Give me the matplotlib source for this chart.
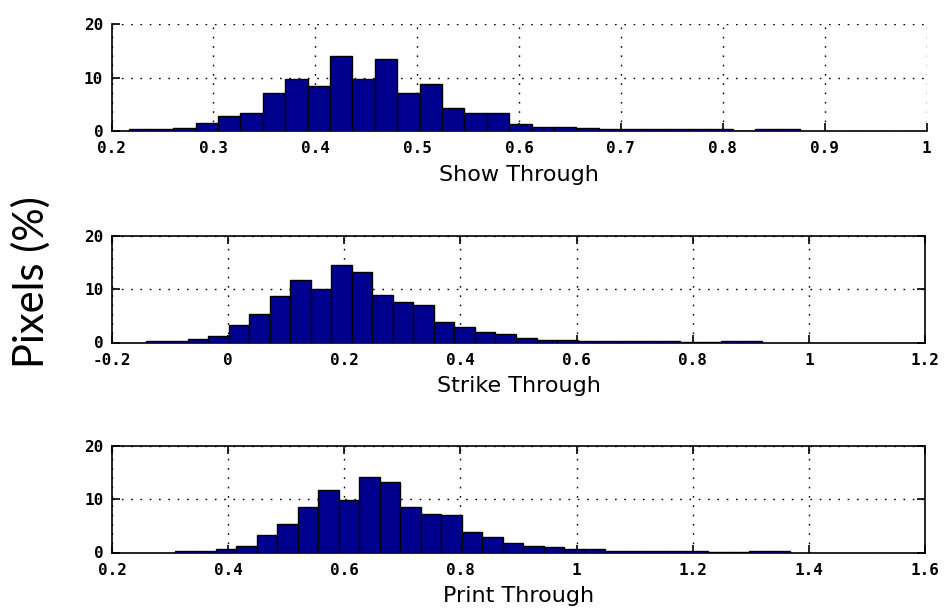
import numpy as np
import matplotlib
matplotlib.use("Agg")
import matplotlib.pyplot as plt

# ---- data ----
show_range = (0.2167, 0.876)
show_counts = [0.3, 0.3, 0.55, 1.5, 2.75, 3.4, 7.1, 9.7, 8.4, 14.1, 9.7, 13.4, 7.1, 8.75, 4.3,
               3.4, 3.4, 1.4, 0.8, 0.8, 0.5, 0.35, 0.35, 0.35, 0.35, 0.35, 0.35, 0.0, 0.3, 0.3]
strike_range = (-0.1407, 0.92)
strike_counts = [0.2, 0.2, 0.6, 1.25, 3.25, 5.4, 8.6, 11.7, 10.05, 14.5, 13.25, 8.9, 7.6, 7.0, 3.8,
                 2.9, 1.9, 1.6, 0.9, 0.55, 0.55, 0.25, 0.25, 0.25, 0.25, 0.25, 0.1, 0.1, 0.3, 0.3]
print_range = (0.308, 1.367)
print_counts = [0.25, 0.25, 0.6, 1.25, 3.2, 5.4, 8.55, 11.7, 9.9, 14.2, 13.3, 8.55, 7.3, 7.0, 3.8,
                2.9, 1.85, 1.3, 0.95, 0.6, 0.6, 0.3, 0.3, 0.3, 0.3, 0.3, 0.05, 0.05, 0.3, 0.3]

show_xticks = [0.2, 0.3, 0.4, 0.5, 0.6, 0.7, 0.8, 0.9, 1.0]
show_xticklabels = ["0.2", "0.3", "0.4", "0.5", "0.6", "0.7", "0.8", "0.9", "1"]
strike_xticks = [-0.2, 0, 0.2, 0.4, 0.6, 0.8, 1.0, 1.2]
strike_xticklabels = ["-0.2", "0", "0.2", "0.4", "0.6", "0.8", "1", "1.2"]
print_xticks = [0.2, 0.4, 0.6, 0.8, 1.0, 1.2, 1.4, 1.6]
print_xticklabels = ["0.2", "0.4", "0.6", "0.8", "1", "1.2", "1.4", "1.6"]
yticks = [0, 10, 20]
yticklabels = ["0", "10", "20"]

titles = ["Show Through", "Strike Through", "Print Through"]
ylabel = "Pixels (%)"

W, H = 949, 610
fig = plt.figure(figsize=(W / 100, H / 100), dpi=100)

def px_axes(left, right, top, bottom):
    return fig.add_axes([left / W, 1 - bottom / H, (right - left) / W, (bottom - top) / H])

panels = [
    (px_axes(111.5, 926.5, 24, 131), show_range, show_counts, show_xticks, show_xticklabels, titles[0], False),
    (px_axes(112, 925, 235.5, 342.5), strike_range, strike_counts, strike_xticks, strike_xticklabels, titles[1], True),
    (px_axes(112, 925, 446, 552.5), print_range, print_counts, print_xticks, print_xticklabels, titles[2], True),
]

bar_color = "#00008F"
tick_font = dict(family="DejaVu Sans Mono", weight="bold", size=11.5)

for ax, rng, counts, xt, xtl, title, box in panels:
    edges = np.linspace(rng[0], rng[1], len(counts) + 1)
    ax.bar(edges[:-1], counts, width=np.diff(edges), align="edge",
           color=bar_color, edgecolor="black", linewidth=1.0, zorder=3)
    ax.set_xlim(xt[0], xt[-1])
    ax.set_ylim(0, 20)
    ax.set_xticks(xt)
    ax.set_xticklabels(xtl, fontdict=tick_font)
    ax.set_yticks(yticks)
    ax.set_yticklabels(yticklabels, fontdict=tick_font)
    ax.grid(True, color="black", linestyle=(0, (1.2, 5.5)), linewidth=1.0, zorder=1)
    ax.tick_params(direction="in", length=6, width=1.2,
                   top=box, right=box, bottom=True, left=True)
    ax.tick_params(axis="x", pad=7.5)
    ax.tick_params(axis="y", pad=6)
    for s in ["left", "bottom"]:
        ax.spines[s].set_linewidth(1.2)
    for s in ["top", "right"]:
        ax.spines[s].set_visible(box)
        ax.spines[s].set_linewidth(1.2)
    ax.set_xlabel(title, fontsize=16, family="DejaVu Sans", labelpad=6)

fig.text(31 / W, 1 - 282 / H, ylabel, rotation=90, ha="center", va="center",
         fontsize=30, family="Lato")

fig.savefig("out.png", dpi=100)
